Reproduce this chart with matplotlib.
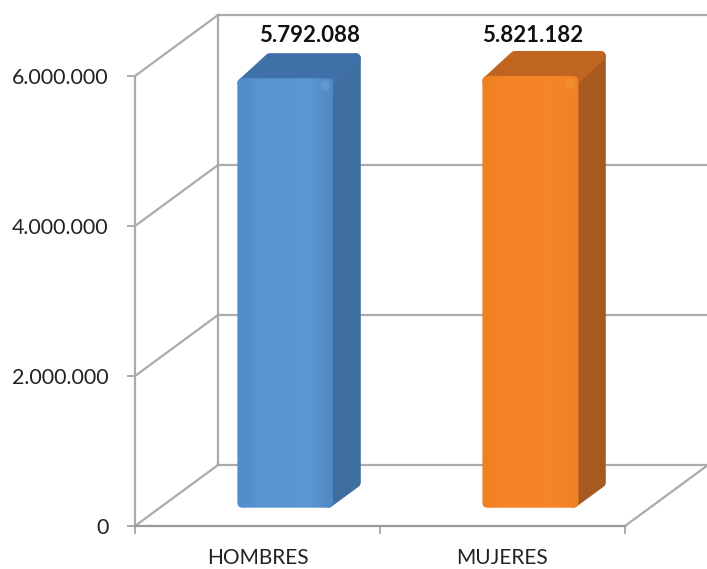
"""Fake 3D column chart, population by sex."""

import numpy as np
import matplotlib
matplotlib.use("Agg")
import matplotlib.pyplot as plt
from matplotlib.colors import LinearSegmentedColormap
from matplotlib.patches import FancyBboxPatch, Polygon

categories = ["HOMBRES", "MUJERES"]
values = [5792088, 5821182]
value_labels = ["5.792.088", "5.821.182"]
y_ticks = [0, 2000000, 4000000, 6000000]
y_tick_labels = ["0", "2.000.000", "4.000.000", "6.000.000"]

FRONT = ["#4F8CCB", "#5A95D1", "#5A95CF", "#5C97D3", "#4F89C4"]
SIDE_BLUE = "#3E6D9F"
TOP_BLUE = "#3F71A8"
FRONT_O = ["#F07F20", "#F58427", "#F58426", "#F58628", "#F08224"]
SIDE_O = "#A65A20"
TOP_O = "#C0651F"
GRID = "#ABABAB"

# one pixel in data units
PX = 1 / 245
PY = 1e6 / 75
# depth axis offset, in category units / value units
DX = 83 * PX
DY = 61 * PY
BAR_W = 96 * PX
BAR_D0 = 0.30   # gap between front edge of floor and bar
BAR_D = 0.33
SHIFT = 3 * PX
TOP_DROP = 5 * PY   # front face top sits a little under the back edge
R = 5   # corner radius in px

plt.rcParams["font.family"] = ["Lato", "DejaVu Sans"]

fig = plt.figure(figsize=(7.07, 5.69), dpi=100)
ax = fig.add_axes([135 / 707, 43 / 569, 490 / 707, 450 / 569])


def proj(x, y, d):
    return x + d * DX, y + d * DY


def nudge(p, px, py):
    return p[0] + px * PX, p[1] + py * PY


def wall_line(p0, p1):
    ax.plot([p0[0], p1[0]], [p0[1], p1[1]], color=GRID, lw=1.6, clip_on=False, zorder=1,
            solid_capstyle="projecting")


# walls and floor
for t in y_ticks:
    wall_line(proj(0, t, 0), proj(0, t, 1))
    wall_line(proj(0, t, 1), proj(2, t, 1))
wall_line(proj(0, 0, 1), proj(0, y_ticks[-1], 1))
wall_line(proj(2, 0, 0), proj(2, 0, 1))


def draw_bar(xc, val, front, side, top, spot):
    x0 = xc - BAR_W / 2 + SHIFT
    x1 = xc + BAR_W / 2 + SHIFT
    a, b = BAR_D0, BAR_D0 + BAR_D
    front_top = val - TOP_DROP

    # thick round-joined edges give the soft outer corners, so pull the outline in by R
    stroke = 2 * R * 0.72
    side_pts = [nudge(proj(x1, 0, a), -R, R), nudge(proj(x1, 0, b), -R, R),
                nudge(proj(x1, val, b), -R, -R), nudge(proj(x1, front_top, a), -R, -R)]
    top_pts = [nudge(proj(x0, front_top, a), R, -R), nudge(proj(x1, front_top, a), -R, -R),
               nudge(proj(x1, val, b), -R, -R), nudge(proj(x0, val, b), R, -R)]
    ax.add_patch(Polygon(side_pts, closed=True, fc=side, ec=side, lw=stroke, joinstyle="round",
                         clip_on=False, zorder=3))
    ax.add_patch(Polygon(top_pts, closed=True, fc=top, ec=top, lw=stroke, joinstyle="round",
                         clip_on=False, zorder=3.5))

    # front face with horizontal shading, clipped to a rounded box
    lx, ly = proj(x0, 0, a)
    rx, ry = proj(x1, front_top, a)
    box = FancyBboxPatch((lx, ly), rx - lx, ry - ly, transform=ax.transData,
                         boxstyle=f"round,pad=0,rounding_size={R * PX}",
                         mutation_aspect=PY / PX, fc="none", ec="none")
    ax.add_patch(box)
    cmap = LinearSegmentedColormap.from_list("face", front)
    im = ax.imshow(np.linspace(0, 1, 64).reshape(1, -1), cmap=cmap, aspect="auto",
                   extent=[lx, rx, ly, ry], zorder=5, clip_on=True)
    im.set_clip_path(box)

    # small soft highlight near the top right corner
    sx, sy = nudge((rx, ry), -8, -7)
    ax.scatter([sx], [sy], s=70, color=spot, alpha=0.22, linewidths=0, zorder=6, clip_on=False)
    ax.scatter([sx], [sy], s=25, color=spot, alpha=0.22, linewidths=0, zorder=6, clip_on=False)


draw_bar(0.5, values[0], FRONT, SIDE_BLUE, TOP_BLUE, "#74AEE4")
draw_bar(1.5, values[1], FRONT_O, SIDE_O, TOP_O, "#F89A45")

# value labels share one baseline above the top faces
label_x = [0.5 + 52 * PX, 1.5 + 30 * PX]
label_y = proj(0, max(values), BAR_D0 + BAR_D)[1] + 5 * PY
for x, s in zip(label_x, value_labels):
    ax.text(x, label_y, s, ha="center", va="bottom", fontsize=16,
            fontweight="bold", color="#111111", clip_on=False, zorder=6)

ax.set_xlim(0, 2)
ax.set_ylim(0, 6000000)
ax.set_yticks(y_ticks)
ax.set_yticklabels(y_tick_labels, fontsize=15.4, color="#222222")
ax.set_xticks([0, 1, 2])
ax.set_xticklabels([])
ax.set_xticks([0.5, 1.5], minor=True)
ax.set_xticklabels(categories, minor=True, fontsize=15, color="#222222")
ax.tick_params(axis="y", length=6, width=1.4, color=GRID, pad=13)
ax.tick_params(axis="x", which="major", length=6, width=1.4, color=GRID)
ax.tick_params(axis="x", which="minor", length=0, pad=15.5)
ax.patch.set_alpha(0)
for name in ["top", "right"]:
    ax.spines[name].set_visible(False)
ax.spines["left"].set_color(GRID)
ax.spines["left"].set_linewidth(1.6)
ax.spines["bottom"].set_color("#999999")
ax.spines["bottom"].set_linewidth(1.6)

fig.savefig("out.png", dpi=100, facecolor="white")
